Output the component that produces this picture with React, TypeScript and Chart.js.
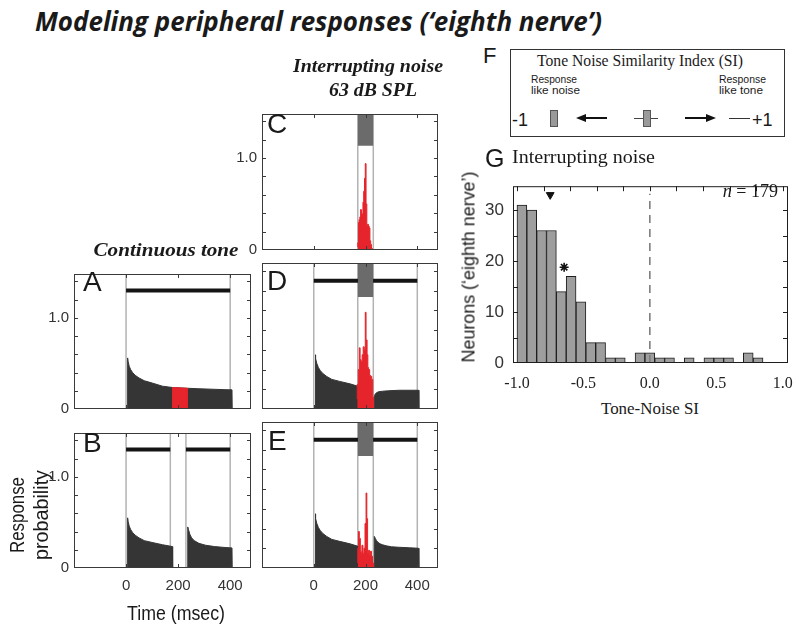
import React, { useEffect, useRef } from "react";
import { Chart, registerables } from "chart.js";
Chart.register(...registerables);

// ---------------- DATA ----------------
const TIME_MIN = -200;
const TIME_MAX = 480;
const TIME_TICKS = [0, 200, 400];
const PROB_MAX = 1.48;
const PROB_LABEL_TICKS = [0, 1];
const PROB_MINOR_TICKS = [0.2, 0.4, 0.6, 0.8, 1.0, 1.2, 1.4];
const TONE_LEVEL = 1.3;
const NOISE_ON = 170;
const NOISE_OFF = 230;
const NOISE_BOX_BOTTOM = 1.135;

// Panel A: continuous tone
const A_TONES = [[0, 400]];
const A_MARKS = [0, 400];
const A_BLACK_T = [5, 6, 8, 12, 18, 25, 35, 50, 70, 100, 140, 180, 230, 280, 330, 380, 407, 408];
const A_BLACK_Y = [0, 0.56, 0.52, 0.47, 0.43, 0.4, 0.37, 0.34, 0.31, 0.285, 0.25, 0.235, 0.228, 0.222, 0.217, 0.212, 0.21, 0];
const A_RED_T = [178, 178.5, 235, 235.5];
const A_RED_Y = [0, 0.235, 0.227, 0];

// Panel B: tone with gap
const B_TONES = [[0, 170], [230, 400]];
const B_MARKS = [0, 170, 230, 400];
const B1_T = [5, 6, 8, 12, 18, 25, 35, 50, 70, 100, 140, 178, 179];
const B1_Y = [0, 0.55, 0.51, 0.46, 0.42, 0.39, 0.36, 0.33, 0.3, 0.28, 0.255, 0.235, 0];
const B2_T = [236, 237, 240, 245, 252, 262, 280, 305, 340, 380, 407, 408];
const B2_Y = [0, 0.45, 0.42, 0.37, 0.33, 0.3, 0.27, 0.25, 0.235, 0.225, 0.22, 0];

// Panel C: noise alone
const C_MARKS = [170, 230];
const C_RED_T = [170, 173, 175, 178, 181, 184, 187, 190, 193, 196, 199, 202, 205, 208, 211, 214, 217, 220, 223, 226, 228];
const C_RED_Y = [0.03, 0.08, 0.3, 0.33, 0.36, 0.44, 0.4, 0.38, 0.52, 0.64, 0.78, 0.94, 0.5, 0.27, 0.28, 0.26, 0.24, 0.1, 0.06, 0.02, 0];

// Panel D: tone + interrupting noise
const D_TONES = [[0, 400]];
const D_MARKS = [0, 170, 230, 400];
const D1_T = [5, 6, 8, 12, 18, 25, 35, 50, 70, 100, 140, 171, 172];
const D1_Y = [0, 0.55, 0.51, 0.46, 0.42, 0.39, 0.36, 0.33, 0.3, 0.28, 0.255, 0.23, 0];
const D_RED_T = [168, 172, 176, 179, 183, 187, 191, 195, 199, 202, 206, 209, 212, 216, 220, 224, 228, 231, 234];
const D_RED_Y = [0.1, 0.25, 0.4, 0.62, 0.5, 0.48, 0.55, 0.63, 0.6, 0.98, 0.7, 0.55, 0.42, 0.4, 0.34, 0.33, 0.3, 0.12, 0];
const D2_T = [234, 235, 240, 250, 265, 290, 330, 380, 405, 406];
const D2_Y = [0, 0.14, 0.16, 0.175, 0.18, 0.185, 0.19, 0.19, 0.19, 0];

// Panel E: tone + interrupting noise (other unit)
const E_TONES = [[0, 400]];
const E_MARKS = [0, 170, 230, 400];
const E1_T = [5, 6, 8, 12, 18, 25, 35, 50, 70, 100, 140, 171, 172];
const E1_Y = [0, 0.55, 0.5, 0.45, 0.41, 0.38, 0.35, 0.32, 0.29, 0.27, 0.245, 0.22, 0];
const E_RED_T = [170, 173, 176, 180, 183, 186, 190, 194, 198, 202, 205, 208, 212, 215, 219, 223, 227, 231, 233];
const E_RED_Y = [0.05, 0.2, 0.37, 0.3, 0.17, 0.15, 0.23, 0.15, 0.2, 0.45, 0.76, 0.5, 0.16, 0.18, 0.14, 0.17, 0.12, 0.05, 0];
const E2_T = [233, 234, 238, 242, 248, 256, 266, 280, 300, 330, 370, 405, 406];
const E2_Y = [0, 0.32, 0.3, 0.28, 0.26, 0.245, 0.235, 0.225, 0.215, 0.21, 0.205, 0.2, 0];

// Panel G: histogram of Tone-Noise SI
const SI_MIN = -1;
const SI_MAX = 1;
const SI_COUNTS = [31, 30, 26, 26, 14, 17, 12, 4, 4, 1, 1, 0, 2, 2, 1, 1, 0, 1, 0, 1, 1, 1, 0, 2, 1, 0, 0];
const SI_TICKS = [-1, -0.5, 0, 0.5, 1];
const SI_TOP_TICKS = [-1, -0.8, -0.6, -0.4, -0.2, 0, 0.2, 0.4, 0.6, 0.8, 1];
const COUNT_MAX = 34.7;
const COUNT_LABEL_TICKS = [0, 10, 20, 30];
const COUNT_MINOR_TICKS = [5, 10, 15, 20, 25, 30];
const MEDIAN_MARK = [{ x: -0.75, y: 33.0 }];
const STAR_MARK = [{ x: -0.645, y: 18.8 }];
const ZERO_LINE_TOP = 33.2;

// ---------------- HELPERS ----------------
const SANS = '"Liberation Sans", Arial, sans-serif';
const SERIF = '"Liberation Serif", "Times New Roman", serif';
const TITLE_FONT = '"Open Sans", "Noto Sans", sans-serif';

const pts = (t: number[], y: number[]) => t.map((x, i) => ({ x, y: y[i] }));

const mctx = document.createElement("canvas").getContext("2d") as CanvasRenderingContext2D;

type TP = {
  x: number; y: number; text: string; size: number; fam?: string; w?: number;
  anchor?: "start" | "middle" | "end"; bold?: boolean; italic?: boolean; rot?: number; color?: string;
};
function T({ x, y, text, size, fam = SANS, w, anchor = "middle", bold = false, italic = false, rot = 0, color = "#1a1a1a" }: TP) {
  const font = `${italic ? "italic " : ""}${bold ? "bold " : ""}${size}px ${fam}`;
  let sx = 1;
  if (w) {
    mctx.font = font;
    const m = mctx.measureText(text).width;
    if (m > 0) sx = w / m;
  }
  const tx = anchor === "middle" ? "-50%" : anchor === "end" ? "-100%" : "0";
  const origin = anchor === "middle" ? "center" : anchor === "end" ? "right" : "left";
  return (
    <span
      style={{
        position: "absolute", left: x, top: y, font, lineHeight: `${size}px`, color,
        whiteSpace: "nowrap", transformOrigin: `${origin} center`,
        transform: `translate(${tx}, -50%) rotate(${rot}deg) scaleX(${sx})`,
      }}
    >
      {text}
    </span>
  );
}

function framePlugin(opts: { xTop: number[]; xBottom: number[]; y: number[]; len: number; color: string }) {
  return {
    id: "frameTicks",
    afterDatasetsDraw(chart: any) {
      const { ctx, chartArea: a, scales } = chart;
      ctx.save();
      ctx.strokeStyle = opts.color;
      ctx.lineWidth = 1;
      ctx.strokeRect(a.left + 0.5, a.top + 0.5, a.right - a.left - 1, a.bottom - a.top - 1);
      ctx.beginPath();
      opts.xBottom.forEach((v) => {
        const p = Math.round(scales.x.getPixelForValue(v)) + 0.5;
        ctx.moveTo(p, a.bottom); ctx.lineTo(p, a.bottom - opts.len);
      });
      opts.xTop.forEach((v) => {
        const p = Math.round(scales.x.getPixelForValue(v)) + 0.5;
        ctx.moveTo(p, a.top); ctx.lineTo(p, a.top + opts.len);
      });
      opts.y.forEach((v) => {
        const p = Math.round(scales.y.getPixelForValue(v)) + 0.5;
        ctx.moveTo(a.left, p); ctx.lineTo(a.left + opts.len, p);
        ctx.moveTo(a.right, p); ctx.lineTo(a.right - opts.len, p);
      });
      ctx.stroke();
      ctx.restore();
    },
  };
}

type Seg = { t: number[]; y: number[]; stepped?: boolean };
type Frame = { l: number; t: number; w: number; h: number };
type TimePanelProps = {
  frame: Frame; black: Seg[]; red: Seg[]; tones: number[][]; noise: boolean; marks: number[];
  yLabels: boolean; xLabels: boolean;
};

const PAD_L = 40, PAD_T = 3, PAD_R = 3, PAD_B = 32;
const BLACK = "#353535";
const RED = "#e6242b";

function TimePanel(p: TimePanelProps) {
  const ref = useRef<HTMLCanvasElement>(null);
  useEffect(() => {
    const datasets: any[] = [];
    if (p.noise) {
      datasets.push({
        data: [{ x: NOISE_ON, y: PROB_MAX }, { x: NOISE_OFF, y: PROB_MAX }],
        fill: { value: NOISE_BOX_BOTTOM }, backgroundColor: "#6b6b6b", borderColor: "rgba(0,0,0,0)",
        borderWidth: 1, pointRadius: 0, order: 0,
      });
    }
    p.tones.forEach(([a, b]) =>
      datasets.push({
        data: [{ x: a, y: TONE_LEVEL }, { x: b, y: TONE_LEVEL }],
        borderColor: "#141414", borderWidth: 4, pointRadius: 0, fill: false, order: 1,
      })
    );
    p.red.forEach((s) =>
      datasets.push({
        data: pts(s.t, s.y), fill: "origin", backgroundColor: RED, borderColor: RED,
        borderWidth: 1, pointRadius: 0, stepped: s.stepped ? "after" : false, order: 2,
      })
    );
    p.black.forEach((s) =>
      datasets.push({
        data: pts(s.t, s.y), fill: "origin", backgroundColor: BLACK, borderColor: BLACK,
        borderWidth: 1, pointRadius: 0, order: 3,
      })
    );
    p.marks.forEach((m) =>
      datasets.push({
        data: [{ x: m, y: 0 }, { x: m, y: PROB_MAX }],
        borderColor: "#b3b3b3", borderWidth: 1.5, pointRadius: 0, fill: false, order: 4,
      })
    );
    const xScale: any = {
      type: "linear", min: TIME_MIN, max: TIME_MAX, display: p.xLabels,
      grid: { display: false, drawTicks: false }, border: { display: false },
      ticks: {
        autoSkip: false, maxRotation: 0, padding: 9, color: "#333",
        font: { family: SANS, size: 15 }, callback: (v: any) => String(v),
      },
      afterBuildTicks: (s: any) => { s.ticks = TIME_TICKS.map((v) => ({ value: v })); },
    };
    if (p.xLabels) xScale.afterFit = (s: any) => { s.height = PAD_B; };
    const yScale: any = {
      type: "linear", min: 0, max: PROB_MAX, display: p.yLabels,
      grid: { display: false, drawTicks: false }, border: { display: false },
      ticks: {
        autoSkip: false, padding: 5, color: "#333", font: { family: SANS, size: 15 },
        callback: (v: any) => (v === 0 ? "0" : Number(v).toFixed(1)),
      },
      afterBuildTicks: (s: any) => { s.ticks = PROB_LABEL_TICKS.map((v) => ({ value: v })); },
    };
    if (p.yLabels) yScale.afterFit = (s: any) => { s.width = PAD_L; };
    const chart = new Chart(ref.current as HTMLCanvasElement, {
      type: "line",
      data: { datasets },
      options: {
        responsive: false, animation: false, devicePixelRatio: 1, events: [],
        layout: { padding: { left: p.yLabels ? 0 : PAD_L, top: PAD_T, right: PAD_R, bottom: p.xLabels ? 0 : PAD_B } },
        plugins: { legend: { display: false }, tooltip: { enabled: false } },
        scales: { x: xScale, y: yScale },
      },
      plugins: [framePlugin({ xTop: TIME_TICKS, xBottom: TIME_TICKS, y: PROB_MINOR_TICKS, len: 4, color: "#3a3a3a" })],
    } as any);
    return () => chart.destroy();
  }, []);
  const W = p.frame.w + PAD_L + PAD_R, H = p.frame.h + PAD_T + PAD_B;
  return (
    <canvas
      ref={ref} width={W} height={H}
      style={{ position: "absolute", left: p.frame.l - PAD_L, top: p.frame.t - PAD_T, width: W, height: H }}
    />
  );
}

const G_FRAME: Frame = { l: 513, t: 170, w: 275, h: 193 };
const G_PAD_L = 48, G_PAD_T = 3, G_PAD_R = 18, G_PAD_B = 30;

function Histogram() {
  const ref = useRef<HTMLCanvasElement>(null);
  useEffect(() => {
    const width = (SI_MAX - SI_MIN) / SI_COUNTS.length;
    const bars = SI_COUNTS.map((c, i) => ({ x: SI_MIN + (i + 0.5) * width, y: c === 0 ? null : c }));
    const chart = new Chart(ref.current as HTMLCanvasElement, {
      type: "bar",
      data: {
        datasets: [
          {
            type: "scatter", data: MEDIAN_MARK, pointStyle: "triangle", rotation: 180, pointRadius: 4.5,
            backgroundColor: "#111", borderColor: "#111", borderWidth: 1, order: 0,
          },
          {
            type: "scatter", data: STAR_MARK, pointStyle: "star", pointRadius: 4.5,
            backgroundColor: "#111", borderColor: "#111", borderWidth: 1.6, order: 0,
          },
          {
            type: "line", data: [{ x: 0, y: 0 }, { x: 0, y: ZERO_LINE_TOP }], borderColor: "#7d7d7d",
            borderWidth: 1.6, borderDash: [8, 6], pointRadius: 0, fill: false, order: 1,
          },
          {
            type: "bar", data: bars, backgroundColor: "#9e9e9e", borderColor: "#1e1e1e", borderWidth: 1,
            borderSkipped: false, barPercentage: 1, categoryPercentage: 1, order: 2,
          },
        ],
      },
      options: {
        responsive: false, animation: false, devicePixelRatio: 1, events: [],
        layout: { padding: { left: 0, top: G_PAD_T, right: G_PAD_R, bottom: 0 } },
        plugins: { legend: { display: false }, tooltip: { enabled: false } },
        scales: {
          x: {
            type: "linear", min: -1.03, max: 1.04, offset: false,
            grid: { display: false, drawTicks: false }, border: { display: false },
            ticks: {
              autoSkip: false, maxRotation: 0, padding: 11, color: "#222",
              font: { family: SERIF, size: 16 }, callback: (v: any) => Number(v).toFixed(1),
            },
            afterBuildTicks: (s: any) => { s.ticks = SI_TICKS.map((v) => ({ value: v })); },
            afterFit: (s: any) => { s.height = G_PAD_B; },
          },
          y: {
            type: "linear", min: 0, max: COUNT_MAX,
            grid: { display: false, drawTicks: false }, border: { display: false },
            ticks: { autoSkip: false, padding: 9, color: "#333", font: { family: SANS, size: 17 }, callback: (v: any) => String(v) },
            afterBuildTicks: (s: any) => { s.ticks = COUNT_LABEL_TICKS.map((v) => ({ value: v })); },
            afterFit: (s: any) => { s.width = G_PAD_L; },
          },
        },
      },
      plugins: [framePlugin({ xTop: SI_TOP_TICKS, xBottom: [], y: COUNT_MINOR_TICKS, len: 5, color: "#1e1e1e" })],
    } as any);
    return () => chart.destroy();
  }, []);
  const W = G_FRAME.w + G_PAD_L + G_PAD_R, H = G_FRAME.h + G_PAD_T + G_PAD_B;
  return (
    <canvas
      ref={ref} width={W} height={H}
      style={{ position: "absolute", left: G_FRAME.l - G_PAD_L, top: G_FRAME.t - G_PAD_T, width: W, height: H }}
    />
  );
}

const box = (l: number, t: number, w: number, h: number, extra: any = {}) => (
  <div style={{ position: "absolute", left: l, top: t, width: w, height: h, boxSizing: "border-box", ...extra }} />
);

function LegendF() {
  return (
    <>
      {box(510, 49, 275, 88, { border: "1px solid #333" })}
      {box(550, 110, 8, 17, { background: "#9a9a9a", border: "1px solid #555" })}
      {box(585, 117, 22, 2, { background: "#111" })}
      <div style={{ position: "absolute", left: 576, top: 114, width: 0, height: 0, borderTop: "4px solid transparent", borderBottom: "4px solid transparent", borderRight: "10px solid #111" }} />
      {box(634, 118, 24, 1, { background: "#444" })}
      {box(643, 110, 8, 17, { background: "#9a9a9a", border: "1px solid #555" })}
      {box(685, 117, 22, 2, { background: "#111" })}
      <div style={{ position: "absolute", left: 706, top: 114, width: 0, height: 0, borderTop: "4px solid transparent", borderBottom: "4px solid transparent", borderLeft: "10px solid #111" }} />
      {box(729, 118, 21, 1, { background: "#333" })}
      <T x={483} y={56} text="F" size={22} anchor="start" />
      <T x={640} y={61} text="Tone Noise Similarity Index (SI)" size={16} fam={SERIF} w={206} />
      <T x={531} y={79} text="Response" size={11} anchor="start" w={46} />
      <T x={531} y={90} text="like noise" size={11} anchor="start" w={49} />
      <T x={719} y={79} text="Response" size={11} anchor="start" w={47} />
      <T x={719} y={90} text="like tone" size={11} anchor="start" w={44} />
      <T x={512} y={120} text="-1" size={18} anchor="start" />
      <T x={752} y={120} text="+1" size={18} anchor="start" />
    </>
  );
}

export default function App() {
  return (
    <div style={{ position: "absolute", left: 0, top: 0, width: 800, height: 629, background: "#fff", overflow: "hidden" }}>
      <T x={35} y={21} text="Modeling peripheral responses (‘eighth nerve’)" size={26} fam={TITLE_FONT} bold italic anchor="start" w={567} />

      <TimePanel frame={{ l: 74, t: 263, w: 177, h: 146 }} tones={A_TONES} marks={A_MARKS} noise={false}
        black={[{ t: A_BLACK_T, y: A_BLACK_Y }]} red={[{ t: A_RED_T, y: A_RED_Y }]} yLabels xLabels={false} />
      <TimePanel frame={{ l: 74, t: 422, w: 177, h: 146 }} tones={B_TONES} marks={B_MARKS} noise={false}
        black={[{ t: B1_T, y: B1_Y }, { t: B2_T, y: B2_Y }]} red={[]} yLabels xLabels />
      <TimePanel frame={{ l: 262, t: 103, w: 176, h: 147 }} tones={[]} marks={C_MARKS} noise
        black={[]} red={[{ t: C_RED_T, y: C_RED_Y, stepped: true }]} yLabels xLabels={false} />
      <TimePanel frame={{ l: 262, t: 263, w: 176, h: 146 }} tones={D_TONES} marks={D_MARKS} noise
        black={[{ t: D1_T, y: D1_Y }, { t: D2_T, y: D2_Y }]} red={[{ t: D_RED_T, y: D_RED_Y, stepped: true }]} yLabels={false} xLabels={false} />
      <TimePanel frame={{ l: 262, t: 422, w: 176, h: 146 }} tones={E_TONES} marks={E_MARKS} noise
        black={[{ t: E1_T, y: E1_Y }, { t: E2_T, y: E2_Y }]} red={[{ t: E_RED_T, y: E_RED_Y, stepped: true }]} yLabels={false} xLabels />

      <T x={368} y={66} text="Interrupting noise" size={18} fam={SERIF} bold italic w={150} />
      <T x={373} y={90} text="63 dB SPL" size={18} fam={SERIF} bold italic w={88} />
      <T x={166} y={250} text="Continuous tone" size={18} fam={SERIF} bold italic w={145} />

      <T x={83} y={282} text="A" size={28} anchor="start" />
      <T x={83} y={443} text="B" size={28} anchor="start" />
      <T x={267} y={124} text="C" size={28} anchor="start" />
      <T x={267} y={281} text="D" size={28} anchor="start" />
      <T x={268} y={441} text="E" size={28} anchor="start" />

      <T x={17} y={515} text="Response" size={20} rot={-90} w={76} />
      <T x={41} y={515} text="probability" size={20} rot={-90} w={90} />
      <T x={176} y={613} text="Time (msec)" size={20} w={98} />

      <LegendF />

      <Histogram />
      <T x={485} y={158} text="G" size={25} anchor="start" />
      <T x={512} y={157} text="Interrupting noise" size={18} fam={SERIF} anchor="start" w={143} />
      <span style={{ position: "absolute", left: 778, top: 191, transform: "translate(-100%, -50%)", font: `18px ${SERIF}`, lineHeight: "18px", color: "#1a1a1a", whiteSpace: "nowrap" }}>
        <i>n</i> = 179
      </span>
      <T x={468} y={267} text="Neurons (‘eighth nerve’)" size={19} rot={-90} w={191} />
      <T x={650} y={408} text="Tone-Noise SI" size={17} fam={SERIF} w={98} />
    </div>
  );
}
